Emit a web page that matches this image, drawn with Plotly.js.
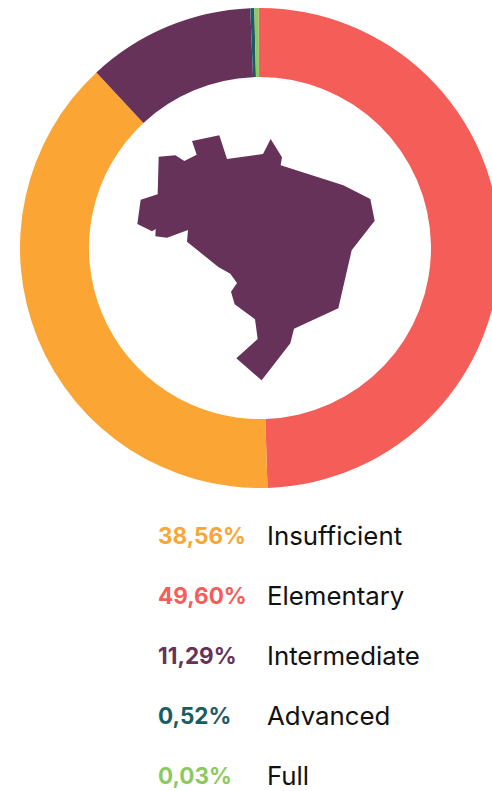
<!DOCTYPE html>
<html><head><meta charset="utf-8">
<script src="https://cdn.plot.ly/plotly-3.0.1.min.js"></script>
<style>html,body{margin:0;padding:0;background:#fff;overflow:hidden;width:492px;height:791px}#c{width:520px;height:791px}</style>
</head><body><div id="c"></div>
<script>
// ring order, clockwise from the top
const categories = ["Elementary","Insufficient","Intermediate","Advanced","Full"];
const labelsPct = ["49,60%","38,56%","11,29%","0,52%","0,03%"];
const values = [49.60,38.56,11.29,0.27,0.28];
const colors = ["#F45D58","#FBA634","#663259","#1A5C64","#8CC95E"];
// rows of the key, top to bottom
const keyOrder = [1,0,2,3,4];
const W=520,H=791;
const px=x=>x/W, py=y=>1-y/H;
// Brazil outline, in 3x-crop coordinates of the reference
const outline=[[116,110],[166,106],[193,123],[230,104],[216,63],[298,46],[321,117],[429,102],[452,57],[486,112],[482,136],[670,196],[751,237],[764,302],[695,391],[655,565],[522,626],[511,670],[425,781],[349,715],[413,657],[405,598],[344,553],[333,515],[351,489],[331,461],[295,441],[201,365],[204,330],[141,353],[106,349],[107,327],[96,334],[52,312],[62,239],[113,223]];
const path='M'+outline.map(p=>px(120+p[0]/3)+','+py(120+p[1]/3)).join('L')+'Z';
const rowY=[535.5,595.5,655.5,715.5,775.5];
const ann=[];
keyOrder.forEach((k,i)=>{
 ann.push({xref:'paper',yref:'paper',x:px(158),y:py(rowY[i]),xanchor:'left',yanchor:'middle',showarrow:false,xshift:-2,text:'<b>'+labelsPct[k]+'</b>',font:{family:'Inter, sans-serif',size:22.5,color:colors[k]}});
 ann.push({xref:'paper',yref:'paper',x:px(267),y:py(rowY[i]),xanchor:'left',yanchor:'middle',showarrow:false,xshift:-2,text:categories[k],font:{family:'Inter, sans-serif',size:25.8,color:'#111111'}});
});
Plotly.newPlot('c',[{type:'pie',labels:categories,values:values,sort:false,direction:'clockwise',rotation:-0.35,hole:171/240,textinfo:'none',hoverinfo:'label',showlegend:false,marker:{colors:colors,line:{width:0}},domain:{x:[px(20),px(500)],y:[py(488),py(8)]}}],
{width:W,height:H,margin:{l:0,r:0,t:0,b:0},paper_bgcolor:'#fff',showlegend:false,annotations:ann,
 shapes:[{type:'path',xref:'paper',yref:'paper',path:path,fillcolor:'#663259',line:{width:0}}]},
{displayModeBar:false,staticPlot:true});
</script></body></html>
